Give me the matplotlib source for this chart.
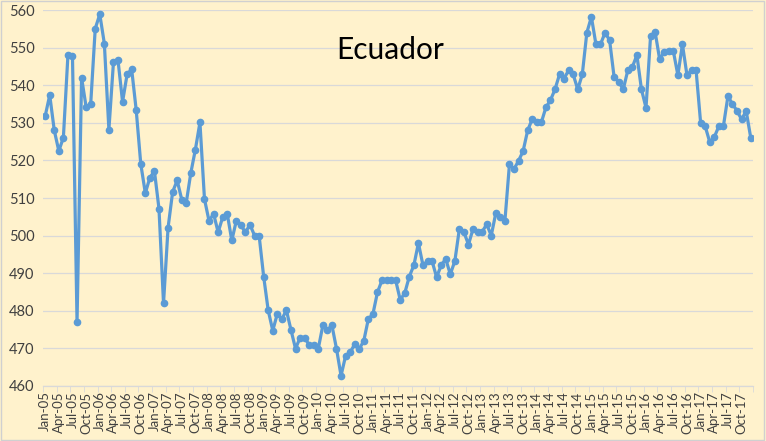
import matplotlib

matplotlib.use("Agg")
import matplotlib.pyplot as plt
import matplotlib.patches as mpatches
import numpy as np

# ── Data: Ecuador crude production, monthly Jan-05 .. Dec-17 (kb/d) ──────────
years = list(range(2005, 2018))
months = ["Jan", "Feb", "Mar", "Apr", "May", "Jun",
          "Jul", "Aug", "Sep", "Oct", "Nov", "Dec"]

values = [
    # 2005
    531.8, 537.4, 528.0, 522.5, 526.1, 548.0, 547.7, 477.0, 542.0, 534.2, 535.0, 555.1,
    # 2006
    558.9, 551.1, 528.2, 546.1, 546.7, 535.6, 542.9, 544.3, 533.4, 519.1, 511.3, 515.4,
    # 2007
    517.2, 507.2, 482.0, 502.1, 511.6, 514.7, 509.6, 508.8, 516.7, 522.9, 530.1, 509.7,
    # 2008
    503.9, 505.8, 500.9, 504.9, 505.8, 498.7, 504.0, 502.7, 500.9, 502.9, 500.0, 500.0,
    # 2009
    489.1, 480.1, 474.7, 479.2, 477.8, 480.1, 474.9, 469.9, 472.8, 472.8, 470.9, 470.9,
    # 2010
    469.9, 476.1, 474.9, 476.1, 469.9, 462.7, 468.0, 468.9, 471.1, 469.8, 472.0, 477.8,
    # 2011
    479.1, 484.9, 488.1, 488.1, 488.1, 488.1, 482.9, 484.7, 489.1, 492.1, 498.0, 492.1,
    # 2012
    493.2, 493.2, 488.9, 492.1, 493.8, 489.7, 493.2, 501.8, 500.9, 497.6, 501.8, 500.9,
    # 2013
    501.0, 503.0, 500.0, 506.0, 505.0, 503.9, 519.0, 517.7, 519.9, 522.5, 528.0, 531.0,
    # 2014
    530.1, 530.1, 534.1, 536.0, 538.9, 542.9, 541.8, 544.0, 542.9, 538.9, 542.9, 554.0,
    # 2015
    558.2, 550.9, 550.9, 554.0, 552.0, 542.1, 541.0, 538.9, 544.0, 544.9, 548.0, 538.9,
    # 2016
    534.0, 553.1, 554.2, 546.9, 548.9, 549.1, 549.1, 542.7, 550.9, 542.7, 544.0, 544.0,
    # 2017
    530.0, 529.1, 524.9, 526.2, 529.1, 529.1, 537.1, 535.0, 533.2, 530.9, 533.2, 526.1,
]

labels = [f"{m}-{y % 100:02d}" for y in years for m in months]

# ── Style ────────────────────────────────────────────────────────────────────
BG = "#FFF2CC"
LINE = "#5B9BD5"
GRID = "#D9D9D9"
TXT = "#404040"

plt.rcParams["font.family"] = ["Lato", "DejaVu Sans"]

fig = plt.figure(figsize=(7.66, 4.41), dpi=100, facecolor=BG)
ax = fig.add_axes([0.056, 0.125, 0.927, 0.852])
ax.set_facecolor(BG)

x = np.arange(len(values))
ax.plot(x, values, color=LINE, lw=2.3, marker="o", ms=4.5,
        markerfacecolor=LINE, markeredgecolor=LINE, zorder=3)

ax.set_ylim(460, 560)
ax.set_yticks(np.arange(460, 561, 10))
ax.set_xlim(-0.5, len(values) - 0.5)
tick_idx = np.arange(0, len(values), 3)
ax.set_xticks(tick_idx)
ax.set_xticklabels([labels[i] for i in tick_idx], rotation=90, fontsize=9.5, color=TXT)
ax.set_xticks(np.arange(-0.5, len(values), 3), minor=True)
ax.tick_params(axis="x", which="major", length=0, pad=4)
ax.tick_params(axis="x", which="minor", length=4, color=GRID)
ax.tick_params(axis="y", length=0, labelsize=10.5, labelcolor=TXT, pad=6)

ax.grid(axis="y", color=GRID, lw=0.9, zorder=0)
for s in ["top", "right", "left"]:
    ax.spines[s].set_visible(False)
ax.spines["bottom"].set_color(GRID)
ax.spines["bottom"].set_linewidth(0.9)

ax.text(0.489, 0.895, "Ecuador", transform=ax.transAxes, ha="center", va="center",
        fontsize=21.5, color="black")

# chart border
fig.patches.append(mpatches.Rectangle((0.001, 0.002), 0.997, 0.996, transform=fig.transFigure,
                                      fill=False, edgecolor="#D0D0D0", lw=1))

fig.savefig("out.png", dpi=100, facecolor=BG)
